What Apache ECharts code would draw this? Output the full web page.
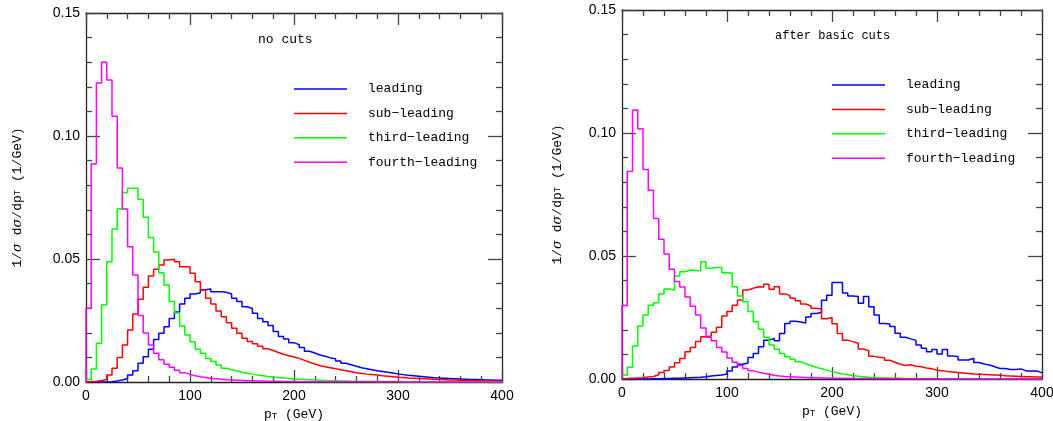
<!DOCTYPE html>
<html>
<head>
<meta charset="utf-8">
<script src="https://cdn.jsdelivr.net/npm/echarts@6/dist/echarts.min.js"></script>
<style>
html,body{margin:0;padding:0;background:#fff;}
#chart{width:1053px;height:421px;}
</style>
</head>
<body>
<div id="chart"></div>
<script>
// ---- data: histograms, 5 GeV bins from 0 to 400 GeV ----
var BIN_WIDTH = 5;
var seriesNames = ['leading', 'sub\u2212leading', 'third\u2212leading', 'fourth\u2212leading'];
var panelTitles = ['no cuts', 'after basic cuts'];
var xTickLabels = ['0', '100', '200', '300', '400'];
var yTickLabels = ['0.00', '0.05', '0.10', '0.15'];

// Left panel: no cuts
var noCutsLeading = [
  0, 0, 0, 0, 0.0001, 0.0004, 0.0008, 0.0014, 0.0028, 0.0046,
  0.0076, 0.0103, 0.0133, 0.0173, 0.0198, 0.0225, 0.0258, 0.0285, 0.0317, 0.0340,
  0.0358, 0.0363, 0.0375, 0.0378, 0.0367, 0.0367, 0.0365, 0.0358, 0.0340, 0.0327,
  0.0306, 0.0299, 0.0279, 0.0258, 0.0245, 0.0230, 0.0205, 0.0185, 0.0175, 0.0160,
  0.0152, 0.0140, 0.0125, 0.0118, 0.0110, 0.0105, 0.0098, 0.0095, 0.0085, 0.0076,
  0.0070, 0.0064, 0.0058, 0.0054, 0.0050, 0.0046, 0.0043, 0.0040, 0.0037, 0.0033,
  0.0030, 0.0027, 0.0025, 0.0023, 0.0021, 0.0019, 0.0017, 0.0016, 0.0015, 0.0014,
  0.0013, 0.0012, 0.0011, 0.0010, 0.0010, 0.0009, 0.0008, 0.0008, 0.0007, 0.0007
];
var noCutsSub = [
  0.0002, 0.0003, 0.0006, 0.0010, 0.0028, 0.0056, 0.0100, 0.0150, 0.0211, 0.0276,
  0.0336, 0.0385, 0.0431, 0.0458, 0.0476, 0.0496, 0.0499, 0.0489, 0.0469, 0.0469,
  0.0442, 0.0408, 0.0374, 0.0340, 0.0317, 0.0289, 0.0265, 0.0241, 0.0218, 0.0198,
  0.0178, 0.0165, 0.0155, 0.0145, 0.0135, 0.0128, 0.0120, 0.0113, 0.0107, 0.0102,
  0.0096, 0.0088, 0.0080, 0.0073, 0.0066, 0.0062, 0.0058, 0.0054, 0.0050, 0.0046,
  0.0042, 0.0038, 0.0035, 0.0032, 0.0030, 0.0028, 0.0025, 0.0023, 0.0021, 0.0019,
  0.0018, 0.0016, 0.0015, 0.0014, 0.0013, 0.0012, 0.0011, 0.0010, 0.0009, 0.0008,
  0.0008, 0.0007, 0.0006, 0.0006, 0.0005, 0.0005, 0.0004, 0.0004, 0.0003, 0.0003
];
var noCutsThird = [
  0.0010, 0.0053, 0.0158, 0.0313, 0.0489, 0.0622, 0.0703, 0.0770, 0.0788, 0.0788,
  0.0743, 0.0670, 0.0587, 0.0528, 0.0444, 0.0394, 0.0327, 0.0280, 0.0228, 0.0191,
  0.0164, 0.0133, 0.0117, 0.0096, 0.0083, 0.0069, 0.0056, 0.0050, 0.0045, 0.0040,
  0.0036, 0.0032, 0.0028, 0.0025, 0.0022, 0.0020, 0.0018, 0.0016, 0.0014, 0.0012,
  0.0011, 0.0010, 0.0009, 0.0008, 0.0007, 0.0006, 0.0005, 0.0005, 0.0004, 0.0004,
  0.0003, 0.0003, 0.0003, 0.0003, 0.0003, 0.0002, 0.0002, 0.0002, 0.0002, 0.0002,
  0.0001, 0.0001, 0.0001, 0.0001, 0.0001, 0.0001, 0.0001, 0.0001, 0.0001, 0.0001,
  0.0001, 0.0001, 0.0001, 0.0001, 0.0001, 0.0001, 0.0001, 0.0001, 0.0001, 0.0001
];
var noCutsFourth = [
  0.0300, 0.0886, 0.1215, 0.1300, 0.1228, 0.1080, 0.0870, 0.0703, 0.0550, 0.0435,
  0.0270, 0.0199, 0.0150, 0.0117, 0.0090, 0.0072, 0.0060, 0.0048, 0.0038, 0.0031,
  0.0025, 0.0021, 0.0018, 0.0015, 0.0013, 0.0011, 0.0009, 0.0008, 0.0007, 0.0006,
  0.0005, 0.0005, 0.0004, 0.0004, 0.0003, 0.0003, 0.0003, 0.0002, 0.0002, 0.0002,
  0.0001, 0.0001, 0.0001, 0.0001, 0.0001, 0.0001, 0.0001, 0.0001, 0.0001, 0.0001,
  0.0001, 0.0001, 0.0001, 0.0001, 0.0001, 0.0001, 0.0001, 0.0001, 0.0001, 0.0001,
  0, 0, 0, 0, 0, 0, 0, 0, 0, 0,
  0, 0, 0, 0, 0, 0, 0, 0, 0, 0
];

// Right panel: after basic cuts
var cutsLeading = [
  0, 0, 0, 0, 0, 0.0001, 0.0001, 0.0002, 0.0002, 0.0003,
  0.0003, 0.0004, 0.0005, 0.0006, 0.0007, 0.0009, 0.0012, 0.0014, 0.0016, 0.0020,
  0.0033, 0.0049, 0.0060, 0.0065, 0.0087, 0.0104, 0.0131, 0.0158, 0.0165, 0.0155,
  0.0185, 0.0226, 0.0235, 0.0232, 0.0228, 0.0252, 0.0266, 0.0270, 0.0320, 0.0340,
  0.0392, 0.0392, 0.0350, 0.0337, 0.0335, 0.0308, 0.0335, 0.0294, 0.0260, 0.0226,
  0.0224, 0.0213, 0.0186, 0.0170, 0.0163, 0.0157, 0.0138, 0.0125, 0.0111, 0.0120,
  0.0102, 0.0120, 0.0094, 0.0091, 0.0077, 0.0077, 0.0084, 0.0067, 0.0061, 0.0057,
  0.0050, 0.0043, 0.0043, 0.0039, 0.0039, 0.0041, 0.0033, 0.0033, 0.0033, 0.0025
];
var cutsSub = [
  0.0002, 0.0003, 0.0004, 0.0005, 0.0008, 0.0010, 0.0017, 0.0026, 0.0035, 0.0049,
  0.0066, 0.0083, 0.0111, 0.0128, 0.0152, 0.0172, 0.0175, 0.0190, 0.0210, 0.0256,
  0.0274, 0.0300, 0.0321, 0.0362, 0.0369, 0.0375, 0.0374, 0.0385, 0.0365, 0.0375,
  0.0346, 0.0340, 0.0328, 0.0318, 0.0305, 0.0297, 0.0288, 0.0285, 0.0245, 0.0250,
  0.0225, 0.0185, 0.0158, 0.0152, 0.0145, 0.0122, 0.0115, 0.0092, 0.0088, 0.0086,
  0.0076, 0.0068, 0.0060, 0.0055, 0.0058, 0.0052, 0.0050, 0.0045, 0.0042, 0.0036,
  0.0034, 0.0030, 0.0028, 0.0026, 0.0024, 0.0022, 0.0020, 0.0019, 0.0018, 0.0017,
  0.0016, 0.0015, 0.0013, 0.0012, 0.0011, 0.0010, 0.0009, 0.0009, 0.0008, 0.0008
];
var cutsThird = [
  0.0016, 0.0048, 0.0134, 0.0215, 0.0260, 0.0300, 0.0310, 0.0346, 0.0366, 0.0362,
  0.0419, 0.0436, 0.0443, 0.0441, 0.0440, 0.0477, 0.0450, 0.0453, 0.0453, 0.0432,
  0.0430, 0.0375, 0.0337, 0.0314, 0.0274, 0.0233, 0.0202, 0.0170, 0.0138, 0.0121,
  0.0104, 0.0090, 0.0080, 0.0070, 0.0062, 0.0055, 0.0048, 0.0042, 0.0036, 0.0030,
  0.0025, 0.0020, 0.0017, 0.0014, 0.0011, 0.0009, 0.0007, 0.0006, 0.0005, 0.0004,
  0.0003, 0.0003, 0.0003, 0.0002, 0.0002, 0.0002, 0.0002, 0.0002, 0.0002, 0.0002,
  0.0001, 0.0001, 0.0001, 0.0001, 0.0001, 0.0001, 0.0001, 0.0001, 0.0001, 0.0001,
  0.0001, 0.0001, 0.0001, 0.0001, 0.0001, 0.0001, 0.0001, 0.0001, 0.0001, 0.0001
];
var cutsFourth = [
  0.0299, 0.0843, 0.1093, 0.1017, 0.0852, 0.0767, 0.0652, 0.0568, 0.0508, 0.0446,
  0.0396, 0.0374, 0.0333, 0.0296, 0.0260, 0.0207, 0.0170, 0.0155, 0.0128, 0.0110,
  0.0085, 0.0068, 0.0055, 0.0043, 0.0034, 0.0027, 0.0023, 0.0019, 0.0015, 0.0012,
  0.0010, 0.0009, 0.0008, 0.0007, 0.0006, 0.0005, 0.0005, 0.0004, 0.0004, 0.0003,
  0.0003, 0.0003, 0.0003, 0.0002, 0.0002, 0.0002, 0.0002, 0.0002, 0.0002, 0.0002,
  0.0002, 0.0002, 0.0001, 0.0001, 0.0001, 0.0001, 0.0001, 0.0001, 0.0001, 0.0001,
  0.0001, 0.0001, 0.0001, 0.0001, 0.0001, 0.0001, 0.0001, 0.0001, 0.0001, 0.0001,
  0.0001, 0.0001, 0.0001, 0.0001, 0.0001, 0.0001, 0.0001, 0.0001, 0.0001, 0.0001
];

var panels = [
  [noCutsLeading, noCutsSub, noCutsThird, noCutsFourth],
  [cutsLeading, cutsSub, cutsThird, cutsFourth]
];
var colors = ['#0000ff', '#ff0000', '#00ff00', '#ff00ff'];

// ---- chart ----
var MONO = '"Liberation Mono", "DejaVu Sans Mono", monospace';
var SANS = '"Liberation Sans", Arial, sans-serif';

// step-histogram points: bin lower edges, closed at both ends
function histPoints(vals) {
  var pts = [[0, 0]];
  for (var i = 0; i < vals.length; i++) pts.push([i * BIN_WIDTH, vals[i]]);
  pts.push([vals.length * BIN_WIDTH, vals[vals.length - 1]]);
  return pts;
}

var grids = [
  {left: 86, top: 13, width: 416, height: 369, containLabel: false, outerBoundsMode: 'none'},
  {left: 622, top: 10, width: 420, height: 369, containLabel: false, outerBoundsMode: 'none'}
];
var yNameGaps = [62, 58];

var axisLineStyle = {color: '#222', width: 1.3};
var tickStyle = {color: '#444', width: 1.3};

var xAxes = [], yAxes = [], series = [], legends = [], titles = [];
grids.forEach(function (g, gi) {
  ['bottom', 'top'].forEach(function (pos) {
    xAxes.push({
      gridIndex: gi, type: 'value', position: pos, min: 0, max: 400, interval: 100,
      axisLine: {show: true, onZero: false, lineStyle: axisLineStyle},
      axisTick: {show: true, inside: true, length: 12, lineStyle: tickStyle},
      minorTick: {show: true, splitNumber: 5, length: 6, lineStyle: tickStyle},
      splitLine: {show: false},
      axisLabel: {show: pos === 'bottom', fontFamily: SANS, fontSize: 14, color: '#000', margin: 7,
        formatter: function (v) { return xTickLabels[Math.round(v / 100)]; }},
      name: pos === 'bottom' ? 'p{s|T} (GeV)' : '',
      nameLocation: 'middle', nameGap: 24,
      nameTextStyle: {fontFamily: MONO, fontSize: 13, color: '#000',
        rich: {s: {fontFamily: MONO, fontSize: 9, color: '#000', verticalAlign: 'bottom', padding: [4, 0, 0, 0]}}}
    });
  });
  ['left', 'right'].forEach(function (pos) {
    yAxes.push({
      gridIndex: gi, type: 'value', position: pos, min: 0, max: 0.15, interval: 0.05,
      axisLine: {show: true, onZero: false, lineStyle: axisLineStyle},
      axisTick: {show: true, inside: true, length: 14, lineStyle: tickStyle},
      minorTick: {show: true, splitNumber: 5, length: 6, lineStyle: tickStyle},
      splitLine: {show: false},
      axisLabel: {show: pos === 'left', fontFamily: SANS, fontSize: 14, color: '#000', margin: 6,
        formatter: function (v) { return yTickLabels[Math.round(v / 0.05)]; }},
      name: pos === 'left' ? '1/{i|\u03c3} d{i|\u03c3}/dp{s|T} (1/GeV)' : '',
      nameLocation: 'middle', nameGap: yNameGaps[gi],
      nameTextStyle: {fontFamily: MONO, fontSize: 13, color: '#000',
        rich: {i: {fontFamily: 'DejaVu Serif', fontStyle: 'italic', fontSize: 13, color: '#000'},
               s: {fontFamily: MONO, fontSize: 9, color: '#000'}}}
    });
  });
  panels[gi].forEach(function (vals, si) {
    series.push({
      type: 'line', name: seriesNames[si], xAxisIndex: gi * 2, yAxisIndex: gi * 2,
      data: histPoints(vals), step: 'end', symbol: 'none', showSymbol: false,
      lineStyle: {color: colors[si], width: 1.5}, itemStyle: {color: colors[si]},
      silent: true, animation: false, clip: true, z: 2 + si
    });
  });
});

function makeLegend(left, top) {
  return {
    left: left, top: top, orient: 'vertical', padding: 0,
    icon: 'rect', itemWidth: 53, itemHeight: 1.5, itemGap: 10.4,
    selectedMode: false, data: seriesNames,
    textStyle: {fontFamily: MONO, fontSize: 13, color: '#000', lineHeight: 14, height: 14,
      padding: [0, 0, 0, 16]}
  };
}
legends.push(makeLegend(294, 82));
legends.push(makeLegend(832, 78));

titles.push({text: panelTitles[0], left: 258, top: 33, padding: 0,
  textStyle: {fontFamily: MONO, fontSize: 13, fontWeight: 'normal', color: '#000'}});
titles.push({text: panelTitles[1], left: 775, top: 30, padding: 0,
  textStyle: {fontFamily: MONO, fontSize: 12, fontWeight: 'normal', color: '#000'}});

var chart = echarts.init(document.getElementById('chart'), null, {renderer: 'canvas'});
chart.setOption({
  animation: false,
  backgroundColor: '#fff',
  title: titles,
  legend: legends,
  grid: grids,
  xAxis: xAxes,
  yAxis: yAxes,
  series: series
});
</script>
</body>
</html>
